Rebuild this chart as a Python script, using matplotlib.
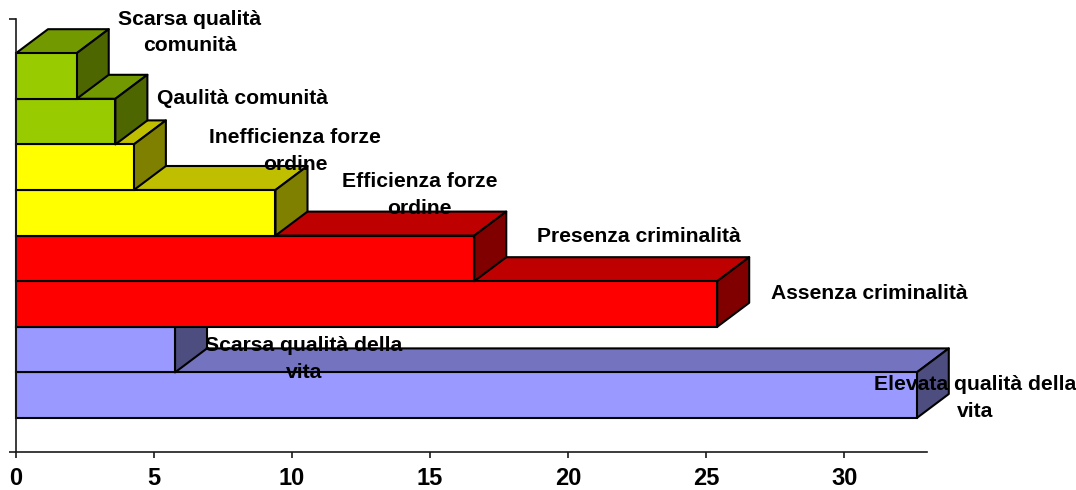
import matplotlib
matplotlib.use("Agg")
import matplotlib.pyplot as plt
from matplotlib.patches import Polygon

plt.rcParams['font.family'] = ['Liberation Sans', 'DejaVu Sans']

# top to bottom of the picture
categories = ["Scarsa qualità\ncomunità", "Qaulità comunità", "Inefficienza forze\nordine",
              "Efficienza forze\nordine", "Presenza criminalità", "Assenza criminalità",
              "Scarsa qualità della\nvita", "Elevata qualità della\nvita"]
values = [2.2, 3.6, 4.27, 9.4, 16.6, 25.4, 5.76, 32.63]
front_colors = ["#99CC00", "#99CC00", "#FFFF00", "#FFFF00", "#FF0000", "#FF0000", "#9999FF", "#9999FF"]
top_colors = ["#739900", "#739900", "#BFBF00", "#BFBF00", "#BF0000", "#BF0000", "#7373BF", "#7373BF"]
side_colors = ["#4D6600", "#4D6600", "#808000", "#808000", "#800000", "#800000", "#4D4D80", "#4D4D80"]
x_ticks = [0, 5, 10, 15, 20, 25, 30]
label_offsets = [(113, 43.5), (127, 23.5), (161, 16.5), (144, 17.5), (165, 21.5), (152, 10.5), (129, -9.5), (58, -2.5)]

W, H = 1076, 490
X0, XEND, YTOP, YBOT = 16, 927, 19, 452
UNIT_H = 45.6
XMAX = 33.0
fig = plt.figure(figsize=(W / 100, H / 100), dpi=100)
ax = fig.add_axes([X0 / W, 1 - YBOT / H, (XEND - X0) / W, (YBOT - YTOP) / H])
ymax = (YBOT - YTOP) / UNIT_H
ax.set_xlim(0, XMAX)
ax.set_ylim(0, ymax)

dx = 32 / ((XEND - X0) / XMAX)
dy = 24 / UNIT_H
bottom0 = (YBOT - 418) / UNIT_H
n = len(values)
ec = "#000000"
lw = 1.5
for i in range(n - 1, -1, -1):
    v = values[i]
    b = bottom0 + (n - 1 - i)
    t = b + 1
    z = 2 + (n - i)
    ax.add_patch(Polygon([(0, t), (dx, t + dy), (v + dx, t + dy), (v, t)], closed=True,
                         fc=top_colors[i], ec=ec, lw=lw, zorder=z, clip_on=False, joinstyle='round'))
    ax.add_patch(Polygon([(v, b), (v + dx, b + dy), (v + dx, t + dy), (v, t)], closed=True,
                         fc=side_colors[i], ec=ec, lw=lw, zorder=z, clip_on=False, joinstyle='round'))
    ax.barh(b + 0.5, v, height=1, color=front_colors[i], edgecolor=ec, linewidth=lw, zorder=z, clip_on=False)

for i, (lab, off) in enumerate(zip(categories, label_offsets)):
    b = bottom0 + (n - 1 - i)
    ax.annotate(lab, xy=(values[i], b + 0.5), xytext=off, textcoords='offset pixels',
                ha='center', va='center', multialignment='center', fontsize=15.2, fontweight='bold',
                color='black', linespacing=1.52, zorder=30, annotation_clip=False)

for s in ('top', 'right'):
    ax.spines[s].set_visible(False)
for s in ('left', 'bottom'):
    ax.spines[s].set_linewidth(1.2)
    ax.spines[s].set_color('#1a1a1a')
ax.spines['left'].set_zorder(40)
ax.set_xticks(x_ticks)
ax.set_yticks([0, ymax])
ax.set_yticklabels([])
ax.tick_params(axis='x', length=4.5, width=1.2, color='#1a1a1a', pad=6.5, labelsize=17)
ax.tick_params(axis='y', length=5, width=1.2, color='#1a1a1a')
for t in ax.get_xticklabels():
    t.set_fontweight('bold')
fig.savefig("out.png", dpi=100)
